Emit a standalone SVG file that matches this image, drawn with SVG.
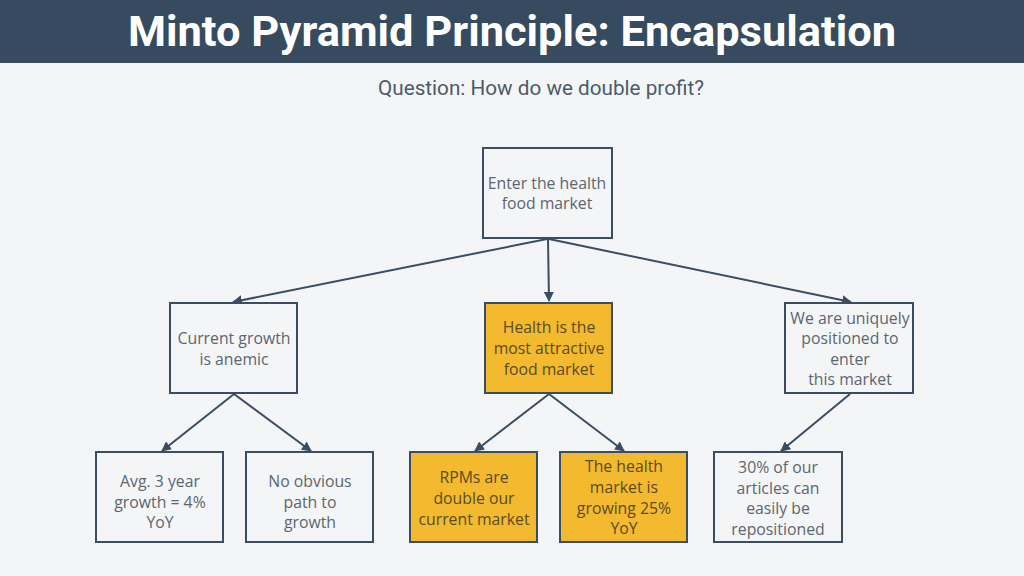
<svg xmlns="http://www.w3.org/2000/svg" width="1024" height="576" viewBox="0 0 1024 576">
<defs>
<style>
.box{fill:#f4f5f6;stroke:#3a4d62;stroke-width:2}
.hi{fill:#f3b92f;stroke:#3a4d62;stroke-width:2}
.t{font-family:"Open Sans","Noto Sans",sans-serif;font-size:15.8px;fill:#5c6670;text-anchor:middle}
.ty{font-family:"Open Sans","Noto Sans",sans-serif;font-size:15.8px;fill:#5a4c24;text-anchor:middle}
.c{stroke:#3a4d62;stroke-width:2;fill:none;marker-end:url(#ah)}
</style>
<marker id="ah" viewBox="0 0 10 10" refX="9" refY="5" markerWidth="5" markerHeight="5" orient="auto" markerUnits="strokeWidth">
<path d="M0,0 L10,5 L0,10 z" fill="#3a4d62"/>
</marker>
</defs>
<rect x="0" y="0" width="1024" height="576" fill="#f4f5f6"/>
<rect x="0" y="0" width="1024" height="63" fill="#374b60"/>
<text x="512" y="46" font-family="Roboto,'Liberation Sans',sans-serif" font-weight="bold" font-size="43" fill="#ffffff" text-anchor="middle" textLength="768" lengthAdjust="spacingAndGlyphs">Minto Pyramid Principle: Encapsulation</text>
<text x="541" y="95" font-family="Roboto,'Liberation Sans',sans-serif" font-size="21" fill="#4d5b69" text-anchor="middle" textLength="326" lengthAdjust="spacingAndGlyphs">Question: How do we double profit?</text>

<g id="connectors">
<path class="c" d="M547,239 L233,302"/>
<path class="c" d="M548,239 L549,301"/>
<path class="c" d="M549,239 L851,302"/>
<path class="c" d="M234,394 L162,451"/>
<path class="c" d="M234,394 L311,451"/>
<path class="c" d="M549,394 L475,451"/>
<path class="c" d="M549,394 L624,451"/>
<path class="c" d="M850,394 L781,451"/>
</g>

<g id="n-top">
<rect class="box" x="483" y="148" width="129" height="90"/>
<text class="t" x="547" y="189">Enter the health</text>
<text class="t" x="547" y="209">food market</text>
</g>
<g id="n-left">
<rect class="box" x="170" y="303" width="127" height="90"/>
<text class="t" x="234" y="344">Current growth</text>
<text class="t" x="234" y="365">is anemic</text>
</g>
<g id="n-mid">
<rect class="hi" x="485" y="303" width="127" height="90"/>
<text class="ty" x="549" y="333">Health is the</text>
<text class="ty" x="549" y="354">most attractive</text>
<text class="ty" x="549" y="375">food market</text>
</g>
<g id="n-right">
<rect class="box" x="785" y="303" width="128" height="90"/>
<text class="t" x="850" y="324">We are uniquely</text>
<text class="t" x="850" y="344">positioned to</text>
<text class="t" x="850" y="365">enter</text>
<text class="t" x="850" y="385">this market</text>
</g>
<g id="n-b1">
<rect class="box" x="96" y="452" width="127" height="90"/>
<text class="t" x="160" y="487">Avg. 3 year</text>
<text class="t" x="160" y="508">growth = 4%</text>
<text class="t" x="160" y="528">YoY</text>
</g>
<g id="n-b2">
<rect class="box" x="246" y="452" width="127" height="90"/>
<text class="t" x="310" y="487">No obvious</text>
<text class="t" x="310" y="508">path to</text>
<text class="t" x="310" y="528">growth</text>
</g>
<g id="n-b3">
<rect class="hi" x="410" y="452" width="127" height="90"/>
<text class="ty" x="474" y="483">RPMs are</text>
<text class="ty" x="474" y="504">double our</text>
<text class="ty" x="474" y="525">current market</text>
</g>
<g id="n-b4">
<rect class="hi" x="560" y="452" width="127" height="90"/>
<text class="ty" x="624" y="472">The health</text>
<text class="ty" x="624" y="493">market is</text>
<text class="ty" x="624" y="514">growing 25%</text>
<text class="ty" x="624" y="534">YoY</text>
</g>
<g id="n-b5">
<rect class="box" x="714" y="452" width="128" height="90"/>
<text class="t" x="778" y="473">30% of our</text>
<text class="t" x="778" y="494">articles can</text>
<text class="t" x="778" y="514">easily be</text>
<text class="t" x="778" y="535">repositioned</text>
</g>
</svg>
